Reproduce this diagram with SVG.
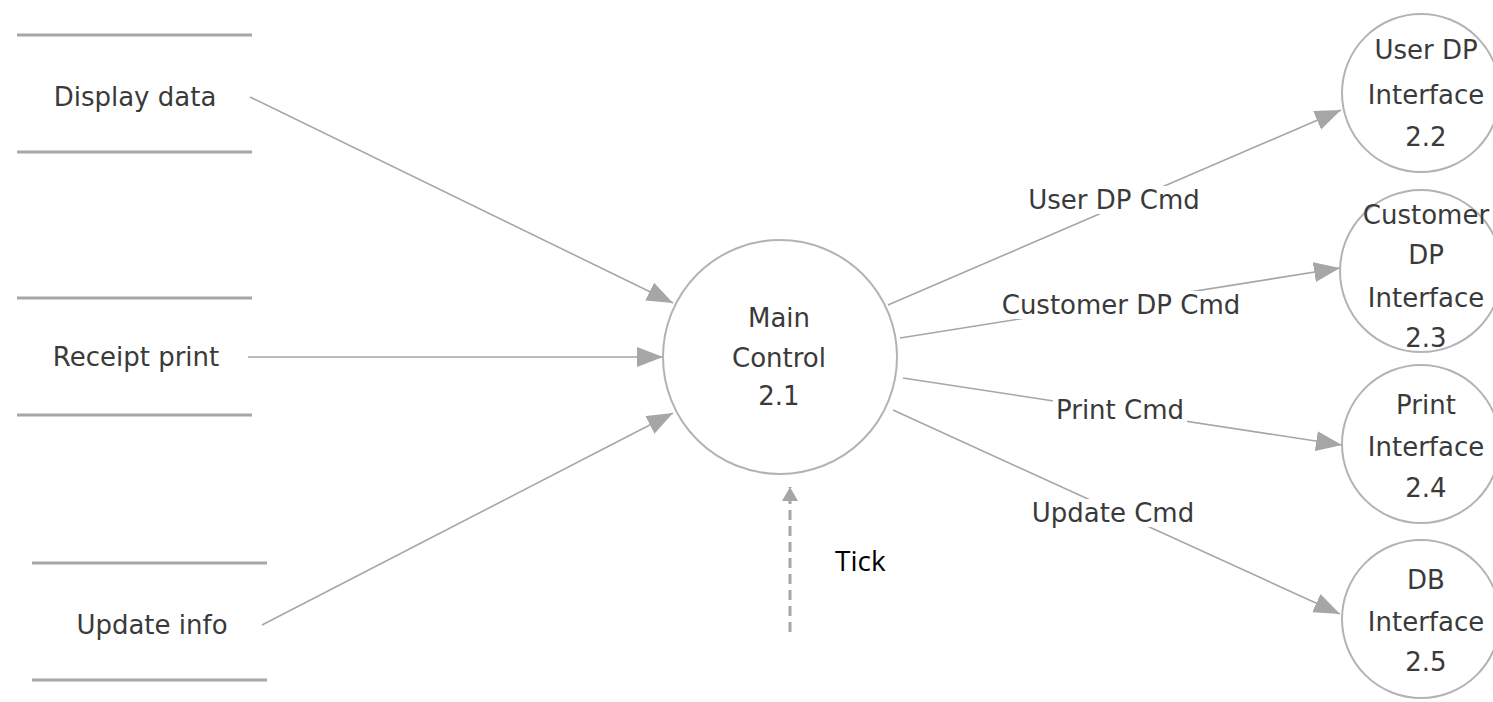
<svg xmlns="http://www.w3.org/2000/svg" width="1493" height="702" viewBox="0 0 1493 702">
<style>
.t{font-family:"DejaVu Sans",sans-serif;font-size:26px;fill:#3a3a3a;text-anchor:middle}
.c{fill:#fff;stroke:#b3b3b3;stroke-width:2}
.s{stroke:#a6a6a6;stroke-width:3}
.f{stroke:#a6a6a6;stroke-width:1.6;fill:none}
.lb{fill:#fff}
</style>
<defs>
<marker id="ah" markerUnits="userSpaceOnUse" markerWidth="30" markerHeight="22" refX="26" refY="10" orient="auto"><path d="M0,0 L26,10 L0,20 Z" fill="#a6a6a6"/></marker>
<marker id="ahs" markerUnits="userSpaceOnUse" markerWidth="18" markerHeight="18" refX="14" refY="8" orient="auto"><path d="M0,0 L14,8 L0,16 Z" fill="#a6a6a6"/></marker>
</defs>
<rect width="1493" height="702" fill="#fff"/>
<g id="connectors">
<line class="f" x1="250" y1="97" x2="673" y2="303" marker-end="url(#ah)"/>
<line class="f" x1="248" y1="357" x2="663" y2="357" marker-end="url(#ah)"/>
<line class="f" x1="262" y1="625" x2="673" y2="413" marker-end="url(#ah)"/>
<line class="f" x1="888" y1="305" x2="1341" y2="110" marker-end="url(#ah)"/>
<line class="f" x1="900" y1="338" x2="1340" y2="268" marker-end="url(#ah)"/>
<line class="f" x1="903" y1="378" x2="1342" y2="445" marker-end="url(#ah)"/>
<line class="f" x1="893" y1="410" x2="1340" y2="614" marker-end="url(#ah)"/>
<line x1="790" y1="632" x2="790" y2="487" stroke="#a6a6a6" stroke-width="3" stroke-dasharray="10 6" marker-end="url(#ahs)"/>
<rect class="lb" x="1025" y="186" width="180" height="28"/>
<text class="t" x="1114" y="209">User DP Cmd</text>
<rect class="lb" x="998" y="291" width="246" height="28"/>
<text class="t" x="1121" y="314">Customer DP Cmd</text>
<rect class="lb" x="1053" y="396" width="134" height="28"/>
<text class="t" x="1120" y="419">Print Cmd</text>
<rect class="lb" x="1028" y="499" width="170" height="28"/>
<text class="t" x="1113" y="522">Update Cmd</text>
<text x="835" y="571" font-family="'Open Sans',sans-serif" font-size="28" fill="#000">Tick</text>
</g>
<g id="store-display">
<line class="s" x1="17" y1="35" x2="252" y2="35"/>
<line class="s" x1="17" y1="152" x2="252" y2="152"/>
<text class="t" x="135" y="106">Display data</text>
</g>
<g id="store-receipt">
<line class="s" x1="17" y1="298" x2="252" y2="298"/>
<line class="s" x1="17" y1="415" x2="252" y2="415"/>
<text class="t" x="136" y="366">Receipt print</text>
</g>
<g id="store-update">
<line class="s" x1="32" y1="563" x2="267" y2="563"/>
<line class="s" x1="32" y1="680" x2="267" y2="680"/>
<text class="t" x="152" y="634">Update info</text>
</g>
<g id="main-control">
<circle class="c" cx="780" cy="357" r="117"/>
<text class="t" x="779" y="327">Main</text>
<text class="t" x="779" y="367">Control</text>
<text class="t" x="779" y="405">2.1</text>
</g>
<g id="user-dp">
<circle class="c" cx="1421" cy="93" r="79"/>
<text class="t" x="1426" y="59">User DP</text>
<text class="t" x="1426" y="104">Interface</text>
<text class="t" x="1426" y="146">2.2</text>
</g>
<g id="customer-dp">
<circle class="c" cx="1421" cy="271" r="81"/>
<text class="t" x="1426" y="224">Customer</text>
<text class="t" x="1426" y="264">DP</text>
<text class="t" x="1426" y="307">Interface</text>
<text class="t" x="1426" y="347">2.3</text>
</g>
<g id="print">
<circle class="c" cx="1421" cy="444" r="79"/>
<text class="t" x="1426" y="414">Print</text>
<text class="t" x="1426" y="456">Interface</text>
<text class="t" x="1426" y="497">2.4</text>
</g>
<g id="db">
<circle class="c" cx="1421" cy="619" r="79"/>
<text class="t" x="1426" y="589">DB</text>
<text class="t" x="1426" y="631">Interface</text>
<text class="t" x="1426" y="671">2.5</text>
</g>
</svg>
